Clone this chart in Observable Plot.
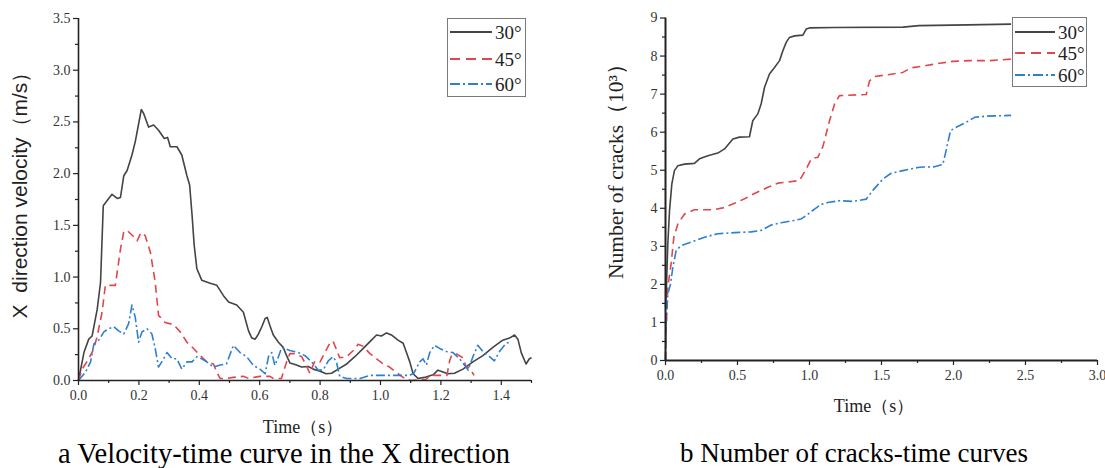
<!DOCTYPE html>
<html>
<head>
<meta charset="utf-8">
<script src="https://cdn.jsdelivr.net/npm/d3@7"></script>
<script src="https://cdn.jsdelivr.net/npm/@observablehq/plot@0.6"></script>
<style>
  html, body { margin: 0; padding: 0; background: #fff; }
  #root { position: relative; width: 1105px; height: 468px; background: #fff; overflow: hidden; font-family: "Liberation Serif", "Times New Roman", serif; }
  .panel { position: absolute; top: 0; }
  .txt { position: absolute; white-space: pre; color: #222; line-height: 1; font-family: "Liberation Serif", serif; }
  .legend { position: absolute; border: 1px solid #7a7a7a; background: #fff; box-sizing: border-box; }
  .legend .row { position: absolute; left: 0; display: flex; align-items: center; }
  .legend .row span { font-family: "Liberation Serif", serif; color: #222; line-height: 1; }
</style>
</head>
<body>
<div id="root"></div>
<script>
// ---------------- data ----------------
const seriesNames = ["30°", "45°", "60°"];
const seriesColors = ["#444444", "#e0474c", "#2f7fd1"];
const seriesDash = ["none", "8,5", "9,3,2,3"];

// Panel a: X-direction velocity (m/s) vs time (s)
const vel30 = [[0,0],[0.018,0.27],[0.034,0.40],[0.045,0.43],[0.062,0.69],[0.073,0.95],[0.082,1.69],[0.095,1.74],[0.111,1.80],[0.128,1.76],[0.139,1.77],[0.150,1.98],[0.161,2.03],[0.177,2.18],[0.188,2.31],[0.199,2.48],[0.208,2.62],[0.216,2.58],[0.232,2.45],[0.249,2.47],[0.265,2.42],[0.284,2.34],[0.295,2.35],[0.304,2.26],[0.326,2.26],[0.342,2.18],[0.359,1.98],[0.368,1.89],[0.376,1.60],[0.383,1.31],[0.392,1.08],[0.408,0.97],[0.436,0.94],[0.458,0.92],[0.480,0.82],[0.497,0.76],[0.524,0.73],[0.546,0.66],[0.563,0.48],[0.574,0.41],[0.585,0.40],[0.596,0.45],[0.607,0.52],[0.618,0.60],[0.625,0.61],[0.634,0.53],[0.645,0.44],[0.662,0.37],[0.678,0.32],[0.689,0.24],[0.700,0.17],[0.717,0.155],[0.739,0.13],[0.761,0.135],[0.777,0.11],[0.800,0.09],[0.820,0.065],[0.838,0.07],[0.860,0.11],[0.888,0.16],[0.915,0.23],[0.943,0.31],[0.970,0.39],[0.987,0.44],[1.003,0.43],[1.020,0.46],[1.036,0.44],[1.058,0.39],[1.075,0.36],[1.086,0.27],[1.097,0.18],[1.108,0.065],[1.124,0.02],[1.146,0.03],[1.174,0.055],[1.190,0.10],[1.200,0.09],[1.223,0.065],[1.245,0.07],[1.273,0.11],[1.306,0.18],[1.339,0.24],[1.372,0.32],[1.405,0.39],[1.427,0.41],[1.444,0.44],[1.455,0.40],[1.466,0.27],[1.482,0.16],[1.493,0.21],[1.5,0.22]];
const vel45 = [[0,0],[0.012,0.11],[0.034,0.21],[0.051,0.31],[0.062,0.43],[0.078,0.66],[0.089,0.92],[0.122,0.92],[0.139,1.27],[0.150,1.44],[0.161,1.45],[0.183,1.39],[0.194,1.35],[0.207,1.43],[0.221,1.40],[0.238,1.24],[0.254,0.95],[0.265,0.63],[0.287,0.56],[0.315,0.54],[0.337,0.47],[0.359,0.37],[0.381,0.31],[0.403,0.24],[0.425,0.18],[0.447,0.16],[0.458,0.08],[0.469,0.02],[0.490,0.02],[0.513,0.03],[0.546,0.04],[0.563,0.02],[0.600,0.04],[0.634,0.04],[0.645,0.02],[0.672,0.02],[0.689,0.18],[0.700,0.26],[0.717,0.26],[0.739,0.23],[0.750,0.17],[0.766,0.07],[0.783,0.19],[0.800,0.18],[0.816,0.27],[0.832,0.36],[0.843,0.38],[0.854,0.30],[0.865,0.22],[0.888,0.23],[0.910,0.29],[0.926,0.35],[0.943,0.33],[0.965,0.26],[0.987,0.21],[1.009,0.16],[1.030,0.13],[1.047,0.09],[1.075,0.03],[1.100,0.0],[1.150,0.01],[1.165,0.05],[1.220,0.05],[1.229,0.19],[1.235,0.24],[1.250,0.26],[1.273,0.22],[1.284,0.13],[1.295,0.12],[1.310,0.05]];
const vel60 = [[0,0],[0.023,0.08],[0.040,0.18],[0.051,0.355],[0.067,0.39],[0.084,0.47],[0.100,0.50],[0.117,0.52],[0.133,0.48],[0.150,0.45],[0.166,0.55],[0.177,0.73],[0.188,0.61],[0.199,0.37],[0.210,0.47],[0.227,0.50],[0.243,0.45],[0.254,0.31],[0.265,0.13],[0.282,0.21],[0.293,0.27],[0.310,0.21],[0.326,0.21],[0.342,0.11],[0.359,0.18],[0.376,0.18],[0.392,0.23],[0.408,0.21],[0.425,0.18],[0.447,0.13],[0.469,0.15],[0.490,0.16],[0.513,0.34],[0.535,0.27],[0.557,0.23],[0.579,0.145],[0.601,0.11],[0.618,0.065],[0.629,0.23],[0.640,0.27],[0.650,0.145],[0.662,0.23],[0.673,0.32],[0.700,0.29],[0.728,0.27],[0.750,0.24],[0.772,0.18],[0.794,0.10],[0.810,0.10],[0.827,0.19],[0.843,0.23],[0.854,0.18],[0.865,0.04],[0.888,0.02],[0.932,0.02],[0.965,0.05],[1.030,0.05],[1.097,0.05],[1.110,0.07],[1.130,0.18],[1.141,0.21],[1.152,0.15],[1.163,0.27],[1.179,0.34],[1.196,0.31],[1.218,0.28],[1.240,0.27],[1.262,0.21],[1.278,0.15],[1.290,0.10],[1.306,0.23],[1.322,0.34],[1.339,0.28],[1.361,0.23],[1.377,0.19],[1.394,0.28],[1.416,0.36],[1.427,0.37]];

// Panel b: number of cracks (10^3) vs time (s)
const cracks30 = [[0,1.4],[0.005,1.75],[0.016,3.06],[0.028,3.94],[0.044,4.64],[0.062,4.99],[0.086,5.12],[0.132,5.16],[0.201,5.18],[0.236,5.30],[0.294,5.38],[0.363,5.45],[0.410,5.56],[0.468,5.82],[0.514,5.87],[0.583,5.88],[0.606,6.30],[0.641,6.48],[0.664,6.74],[0.688,7.18],[0.722,7.53],[0.757,7.70],[0.792,7.88],[0.815,8.14],[0.838,8.36],[0.861,8.49],[0.896,8.53],[0.954,8.55],[0.977,8.71],[1.000,8.74],[1.174,8.75],[1.650,8.76],[1.760,8.80],[2.100,8.82],[2.400,8.84]];
const cracks45 = [[0,0],[0.005,0.87],[0.016,1.93],[0.039,2.54],[0.058,3.24],[0.086,3.59],[0.132,3.85],[0.201,3.96],[0.329,3.96],[0.410,4.02],[0.479,4.13],[0.549,4.25],[0.618,4.39],[0.711,4.55],[0.780,4.66],[0.849,4.69],[0.930,4.73],[0.977,5.03],[1.012,5.30],[1.058,5.34],[1.093,5.62],[1.139,6.30],[1.174,6.74],[1.208,6.96],[1.394,6.99],[1.417,7.35],[1.451,7.46],[1.580,7.53],[1.648,7.57],[1.706,7.69],[1.810,7.75],[1.903,7.81],[1.995,7.86],[2.111,7.88],[2.250,7.88],[2.400,7.92]];
const cracks60 = [[0,0],[0.003,0.87],[0.016,1.75],[0.035,2.01],[0.051,2.45],[0.074,2.89],[0.109,3.02],[0.178,3.11],[0.271,3.24],[0.363,3.33],[0.479,3.36],[0.595,3.38],[0.664,3.42],[0.734,3.56],[0.803,3.62],[0.896,3.68],[0.942,3.72],[0.988,3.84],[1.035,3.98],[1.081,4.10],[1.127,4.15],[1.208,4.20],[1.301,4.18],[1.394,4.24],[1.440,4.47],[1.510,4.77],[1.567,4.92],[1.648,4.99],[1.764,5.08],[1.868,5.09],[1.926,5.15],[1.949,5.52],[1.979,6.04],[2.019,6.13],[2.088,6.26],[2.146,6.39],[2.227,6.42],[2.400,6.44]];

// tick values
const aXTicks = [0,0.2,0.4,0.6,0.8,1.0,1.2,1.4];
const aXMinor = [0.1,0.3,0.5,0.7,0.9,1.1,1.3,1.5];
const aYTicks = [0,0.5,1.0,1.5,2.0,2.5,3.0,3.5];
const aYMinor = [0.25,0.75,1.25,1.75,2.25,2.75,3.25];
const bXTicks = [0,0.5,1.0,1.5,2.0,2.5,3.0];
const bXMinor = [0.25,0.75,1.25,1.75,2.25,2.75];
const bYTicks = [0,1,2,3,4,5,6,7,8,9];
const bYMinor = [0.5,1.5,2.5,3.5,4.5,5.5,6.5,7.5,8.5];

const texts = {
  aY: "X  direction velocity（m/s）",
  aX: "Time（s）",
  aCap: "a Velocity-time curve in the X direction",
  bY: "Number of cracks（10³）",
  bX: "Time（s）",
  bCap: "b Number of cracks-time curves"
};

// ---------------- helpers ----------------
const root = document.getElementById("root");
const fmt1 = d3.format(".1f");
const fmt0 = d3.format("d");

function seriesMarks(list) {
  return list.map((pts, i) => Plot.line(pts, {
    x: d => d[0], y: d => d[1],
    stroke: seriesColors[i], strokeWidth: 1.6,
    strokeDasharray: seriesDash[i] === "none" ? null : seriesDash[i],
    strokeLinejoin: "round", strokeLinecap: "butt"
  }));
}

function axesMarks(xt, xm, yt, ym, xf, yf, axisW) {
  const common = {stroke: "#222", strokeWidth: 1.2, fill: "#333", fontSize: 14};
  return [
    Plot.axisX(xt, {...common, tickSize: 5, tickPadding: 5, tickFormat: xf, label: null}),
    Plot.axisX(xm, {...common, tickSize: 3, tickFormat: () => "", label: null}),
    Plot.axisY(yt, {...common, tickSize: 5, tickPadding: 3, tickFormat: yf, label: null}),
    Plot.axisY(ym, {...common, tickSize: 3, tickFormat: () => "", label: null}),
    Plot.ruleY([yt[0]], {stroke: "#222", strokeWidth: axisW}),
    Plot.ruleX([xt[0]], {stroke: "#222", strokeWidth: axisW})
  ];
}

function addText(str, css) {
  const d = document.createElement("div");
  d.className = "txt";
  d.textContent = str;
  Object.assign(d.style, css);
  root.appendChild(d);
  return d;
}

function addLegend(left, top, w, h, rowYs, fontSize, sampleW) {
  const box = document.createElement("div");
  box.className = "legend";
  Object.assign(box.style, {left: left + "px", top: top + "px", width: w + "px", height: h + "px"});
  seriesNames.forEach((name, i) => {
    const row = document.createElement("div");
    row.className = "row";
    row.style.top = (rowYs[i] - 10) + "px";
    row.style.height = "20px";
    const svg = d3.create("svg").attr("width", sampleW + 5).attr("height", 20);
    svg.append("line").attr("x1", 2).attr("x2", sampleW + 2).attr("y1", 10).attr("y2", 10)
      .attr("stroke", seriesColors[i]).attr("stroke-width", 1.8)
      .attr("stroke-dasharray", seriesDash[i] === "none" ? null : (i === 1 ? "10,6" : "10,3,2,3"));
    row.appendChild(svg.node());
    const s = document.createElement("span");
    s.textContent = name;
    s.style.fontSize = fontSize + "px";
    row.appendChild(s);
    box.appendChild(row);
  });
  root.appendChild(box);
}

// ---------------- panel a ----------------
const plotA = Plot.plot({
  width: 550, height: 440,
  marginLeft: 78, marginRight: 19, marginTop: 18, marginBottom: 60,
  x: {domain: [0, 1.5]},
  y: {domain: [0, 3.5]},
  style: {fontFamily: "Liberation Serif, serif", fontSize: "14px", color: "#333", background: "transparent", overflow: "visible"},
  marks: [
    ...seriesMarks([vel30, vel45, vel60]),
    ...axesMarks(aXTicks, aXMinor, aYTicks, aYMinor, fmt1, fmt1, 1.6)
  ]
});
const pa = document.createElement("div");
pa.className = "panel"; pa.style.left = "0px";
pa.appendChild(plotA);
root.appendChild(pa);

// ---------------- panel b ----------------
const plotB = Plot.plot({
  width: 545, height: 420,
  marginLeft: 105, marginRight: 8, marginTop: 17.5, marginBottom: 60,
  x: {domain: [0, 3]},
  y: {domain: [0, 9]},
  style: {fontFamily: "Liberation Serif, serif", fontSize: "14px", color: "#333", background: "transparent", overflow: "visible"},
  marks: [
    ...seriesMarks([cracks30, cracks45, cracks60]),
    ...axesMarks(bXTicks, bXMinor, bYTicks, bYMinor, fmt1, fmt0, 2)
  ]
});
const pb = document.createElement("div");
pb.className = "panel"; pb.style.left = "560px";
pb.appendChild(plotB);
root.appendChild(pb);

// ---------------- titles, captions ----------------
addText(texts.aX, {left: "303px", top: "418px", fontSize: "18px", transform: "translateX(-50%)"});
addText(texts.bX, {left: "874px", top: "397px", fontSize: "18px", transform: "translateX(-50%)"});
addText(texts.aY, {left: "19px", top: "190px", fontSize: "21px", fontFamily: "Liberation Sans, Arial, sans-serif", transform: "translate(-50%,-50%) rotate(-90deg)"});
addText(texts.bY, {left: "617px", top: "166px", fontSize: "21.5px", transform: "translate(-50%,-50%) rotate(-90deg)"});
addText(texts.aCap, {left: "284px", top: "440px", fontSize: "28.5px", color: "#000", transform: "translateX(-50%)"});
addText(texts.bCap, {left: "854px", top: "440px", fontSize: "27px", color: "#000", transform: "translateX(-50%)"});

// ---------------- legends ----------------
addLegend(447, 18, 79, 79, [13, 40, 65], 19, 42);
addLegend(1012, 17, 75, 70, [14, 35, 57], 19, 40);
</script>
</body>
</html>
